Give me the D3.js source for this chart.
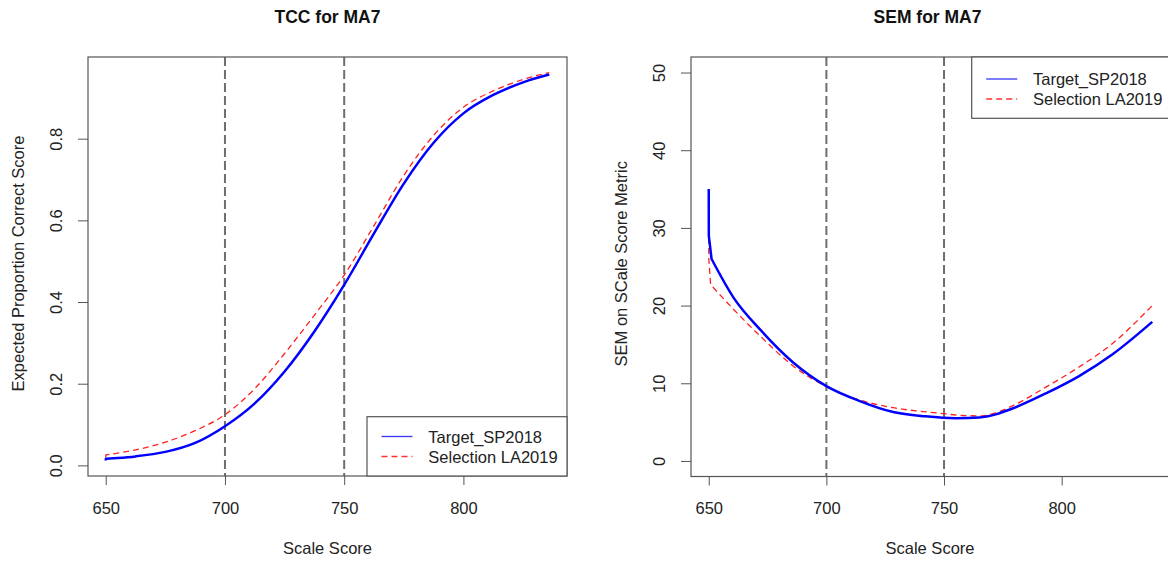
<!DOCTYPE html>
<html>
<head>
<meta charset="utf-8">
<script src="https://cdn.jsdelivr.net/npm/d3@7/dist/d3.min.js"></script>
<style>
  html, body { margin: 0; padding: 0; background: #fff; }
  svg { display: block; font-family: "Liberation Sans", Arial, Helvetica, sans-serif; }
</style>
</head>
<body>
<svg id="chart" width="1168" height="563"></svg>
<script>
// ---------- data ----------
const seriesNames = ["Target_SP2018", "Selection LA2019"];
const cutScores = [700, 750];
const xTicks = [650, 700, 750, 800];
const tccYTicks = [0.0, 0.2, 0.4, 0.6, 0.8];
const semYTicks = [0, 10, 20, 30, 40, 50];

// TCC: expected proportion correct score
const tccScoreTarget = [650, 650.05, 655, 662.5, 675, 687.5, 700, 712.5, 725, 737.5, 750, 762.5, 775, 787.5, 800, 812.5, 825, 836];
const tccTarget      = [0.012, 0.016, 0.018, 0.022, 0.033, 0.055, 0.096, 0.152, 0.230, 0.328, 0.442, 0.568, 0.690, 0.790, 0.862, 0.907, 0.938, 0.957];
const tccScoreSel    = [650, 650.05, 655, 662.5, 675, 687.5, 700, 712.5, 725, 737.5, 750, 762.5, 775, 787.5, 800, 812.5, 825, 836];
const tccSel         = [0.020, 0.026, 0.030, 0.038, 0.057, 0.085, 0.124, 0.188, 0.274, 0.368, 0.466, 0.587, 0.710, 0.808, 0.877, 0.917, 0.945, 0.962];

// SEM on scale score metric
const semScoreTarget = [650, 650.03, 651.2, 660.6, 671.9, 686, 700, 714.2, 728.4, 742, 755, 765, 772, 779.1, 793.3, 807.4, 821.5, 838.5];
const semTarget      = [35.0, 29.0, 26.0, 21.0, 16.9, 12.65, 9.64, 7.71, 6.30, 5.75, 5.50, 5.60, 6.00, 6.75, 8.70, 10.93, 13.7, 17.9];
const semScoreSel    = [650, 650.03, 650.8, 660.6, 671.9, 686, 700, 714.2, 728.4, 748, 758, 766, 772, 779.1, 793.3, 807.4, 821.5, 838.5];
const semSel         = [30.0, 26.0, 22.7, 19.5, 16.07, 12.2, 9.56, 7.84, 6.86, 6.15, 5.85, 5.80, 6.20, 7.10, 9.50, 12.1, 15.1, 20.0];

// ---------- drawing ----------
const svg = d3.select("#chart");
const boxColor = "#555";
const textColor = "#222";
const fs = 16.5;

function rExtent(vals) { // R style 4% expansion
  const [a, b] = d3.extent(vals);
  const r = b - a;
  return [a - 0.04 * r, b + 0.04 * r];
}

function panel(cfg) {
  const g = svg.append("g");
  const x = d3.scaleLinear().domain(cfg.xDomain).range([cfg.box.x0, cfg.box.x1]);
  const y = d3.scaleLinear().domain(cfg.yDomain).range([cfg.box.y1, cfg.box.y0]);

  // cut score lines
  g.selectAll("line.cut").data(cutScores).enter().append("line")
    .attr("x1", d => x(d)).attr("x2", d => x(d))
    .attr("y1", cfg.box.y0).attr("y2", cfg.box.y1)
    .attr("stroke", "#6e6e6e").attr("stroke-width", 2)
    .attr("stroke-dasharray", "9,4");

  const clipId = "clip" + cfg.id;
  svg.append("clipPath").attr("id", clipId).append("rect")
    .attr("x", cfg.box.x0).attr("y", cfg.box.y0)
    .attr("width", cfg.box.x1 - cfg.box.x0).attr("height", cfg.box.y1 - cfg.box.y0);

  const smooth = d3.line().x(d => x(d[0])).y(d => y(d[1])).curve(d3.curveMonotoneX);
  const straight = d3.line().x(d => x(d[0])).y(d => y(d[1]));
  function pathD(xs, ys, head) {
    const pts = d3.zip(xs, ys);
    // steep start drawn straight, the remainder smoothed
    return straight(pts.slice(0, head + 1)) + smooth(pts.slice(head)).replace(/^M/, "L");
  }
  const lines = g.append("g").attr("clip-path", `url(#${clipId})`);
  lines.append("path")
    .attr("d", pathD(cfg.xs2, cfg.ys2, cfg.head)).attr("fill", "none")
    .attr("stroke", "#ff2020").attr("stroke-width", 1.3)
    .attr("stroke-dasharray", "6,4");
  lines.append("path")
    .attr("d", pathD(cfg.xs1, cfg.ys1, cfg.head)).attr("fill", "none")
    .attr("stroke", "#0000ff").attr("stroke-width", 2.5)
    .attr("stroke-linejoin", "round");

  // axes
  const xa = g.append("g").attr("transform", `translate(0,${cfg.box.y1})`)
    .call(d3.axisBottom(x).tickValues(xTicks).tickSize(9).tickPadding(17));
  xa.select(".domain").remove();
  xa.selectAll("line").attr("stroke", boxColor);
  xa.selectAll("text").attr("fill", textColor).attr("font-size", fs)
    .attr("font-family", "Liberation Sans, Arial, sans-serif");

  const ya = g.append("g").attr("transform", `translate(${cfg.box.x0},0)`)
    .call(d3.axisLeft(y).tickValues(cfg.yTicks).tickSize(10).tickFormat(cfg.yFormat));
  ya.select(".domain").remove();
  ya.selectAll("line").attr("stroke", boxColor);
  ya.selectAll("text").attr("fill", textColor).attr("font-size", fs)
    .attr("font-family", "Liberation Sans, Arial, sans-serif")
    .attr("x", null).attr("dy", null).attr("text-anchor", "middle")
    .attr("transform", `translate(-26,0) rotate(-90)`);

  // box
  g.append("rect")
    .attr("x", cfg.box.x0).attr("y", cfg.box.y0)
    .attr("width", cfg.box.x1 - cfg.box.x0).attr("height", cfg.box.y1 - cfg.box.y0)
    .attr("fill", "none").attr("stroke", boxColor).attr("stroke-width", 1.2);

  // title & labels
  g.append("text").attr("x", (cfg.box.x0 + cfg.box.x1) / 2 - (cfg.id === "r" ? 3 : 0)).attr("y", 23)
    .attr("text-anchor", "middle").attr("font-weight", "bold").attr("font-size", 17.5)
    .attr("fill", "#111").text(cfg.title);
  g.append("text").attr("x", cfg.id === "r" ? 930 : 327.5).attr("y", 554)
    .attr("text-anchor", "middle").attr("font-size", fs).attr("fill", textColor).text("Scale Score");
  g.append("text")
    .attr("transform", `translate(${cfg.box.x0 - 64.5},${(cfg.box.y0 + cfg.box.y1) / 2 - 3}) rotate(-90)`)
    .attr("text-anchor", "middle").attr("font-size", fs).attr("fill", textColor).text(cfg.ylab);

  // legend
  const L = cfg.legend;
  const lg = g.append("g");
  lg.append("rect").attr("x", L.x0).attr("y", L.y0).attr("width", L.x1 - L.x0).attr("height", L.y1 - L.y0)
    .attr("fill", "#fff").attr("stroke", boxColor).attr("stroke-width", 1.2);
  const styles = [{c: "#3535ff", w: 1.3, dash: null}, {c: "#ff3030", w: 1.3, dash: "6,4"}];
  seriesNames.forEach((name, i) => {
    const by = L.base[i];
    lg.append("line").attr("x1", L.x0 + 14.5).attr("x2", L.x0 + 45.5)
      .attr("y1", by - 6).attr("y2", by - 6)
      .attr("stroke", styles[i].c).attr("stroke-width", styles[i].w)
      .attr("stroke-dasharray", styles[i].dash);
    lg.append("text").attr("x", L.x0 + 61.3).attr("y", by)
      .attr("font-size", fs).attr("fill", textColor).text(name);
  });
}

panel({
  id: "l",
  box: {x0: 88, x1: 567, y0: 57, y1: 476},
  xDomain: rExtent(tccScoreTarget.concat(tccScoreSel)),
  yDomain: rExtent(tccTarget.concat(tccSel)),
  xs1: tccScoreTarget, ys1: tccTarget, xs2: tccScoreSel, ys2: tccSel, head: 1,
  yTicks: tccYTicks, yFormat: d3.format(".1f"),
  title: "TCC for MA7",
  ylab: "Expected Proportion Correct Score",
  legend: {x0: 367, x1: 567, y0: 416.7, y1: 476, base: [442.5, 462.5]}
});

panel({
  id: "r",
  box: {x0: 691, x1: 1170, y0: 57, y1: 476.5},
  xDomain: rExtent(semScoreTarget.concat(semScoreSel)),
  yDomain: rExtent([0, 50]),
  xs1: semScoreTarget, ys1: semTarget, xs2: semScoreSel, ys2: semSel, head: 2,
  yTicks: semYTicks, yFormat: d3.format("d"),
  title: "SEM for MA7",
  ylab: "SEM on SCale Score Metric",
  legend: {x0: 971.7, x1: 1170, y0: 57, y1: 118.3, base: [85, 105]}
});
</script>
</body>
</html>
